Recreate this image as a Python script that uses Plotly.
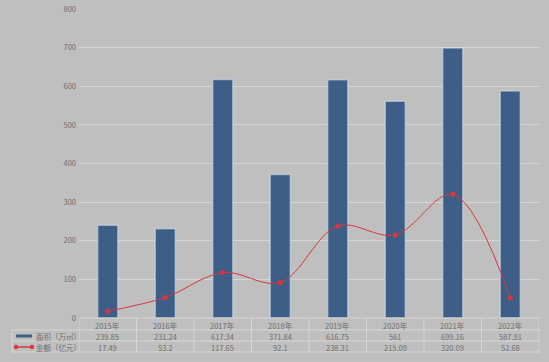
import plotly.graph_objects as go

years = ["2015年", "2016年", "2017年", "2018年", "2019年", "2020年", "2021年", "2022年"]
area = [239.85, 231.24, 617.34, 371.84, 616.75, 561, 699.16, 587.91]
amount = [17.49, 53.2, 117.65, 92.1, 238.31, 215.09, 320.09, 52.68]
area_text = ["239.85", "231.24", "617.34", "371.84", "616.75", "561", "699.16", "587.91"]
amount_text = ["17.49", "53.2", "117.65", "92.1", "238.31", "215.09", "320.09", "52.68"]
series_names = ["面积（万㎡）", "金额（亿元）"]
yticks = [0, 100, 200, 300, 400, 500, 600, 700, 800]

W, H = 549, 362
ML, MR, MT, MB = 79, 10, 9, 44
PW = W - ML - MR
PH = H - MT - MB

BAR = "#3d5f87"
RED = "#d9363e"
TXT = "#6e6e6e"
GRID = "#d6d6d6"
FONT = "Noto Sans CJK SC"

def px_x(p):
    return (p - ML) / PW

def px_y(p):
    return (H - MB - p) / PH

fig = go.Figure()
fig.add_trace(go.Bar(
    x=years, y=area, name=series_names[0], width=0.35,
    marker=dict(color=BAR, line=dict(color="rgba(215,225,235,0.55)", width=1.5)),
))
fig.add_trace(go.Scatter(
    x=years, y=amount, name=series_names[1], mode="lines+markers",
    line=dict(color=RED, width=1, shape="spline", smoothing=1.0),
    marker=dict(color=RED, size=5),
))

shapes = []
for yy in [330, 341, 352]:
    shapes.append(dict(type="line", xref="paper", yref="paper",
                       x0=px_x(12), x1=px_x(540), y0=px_y(yy), y1=px_y(yy),
                       line=dict(color=GRID, width=1)))
shapes.append(dict(type="line", xref="paper", yref="paper",
                   x0=px_x(80), x1=px_x(540), y0=px_y(318), y1=px_y(318),
                   line=dict(color=GRID, width=1)))
for i in range(len(years) + 1):
    shapes.append(dict(type="line", xref="x", yref="paper",
                       x0=i - 0.5, x1=i - 0.5, y0=px_y(318), y1=px_y(352),
                       line=dict(color=GRID, width=1)))
shapes.append(dict(type="line", xref="paper", yref="paper",
                   x0=px_x(12), x1=px_x(12), y0=px_y(330), y1=px_y(352),
                   line=dict(color=GRID, width=1)))
shapes.append(dict(type="rect", xref="paper", yref="paper",
                   x0=px_x(16), x1=px_x(32), y0=px_y(337.5), y1=px_y(334.5),
                   fillcolor=BAR, line=dict(width=0)))
shapes.append(dict(type="line", xref="paper", yref="paper",
                   x0=px_x(16), x1=px_x(32), y0=px_y(347), y1=px_y(347),
                   line=dict(color=RED, width=1.5)))
for cx in [16, 32]:
    shapes.append(dict(type="circle", xref="paper", yref="paper",
                       x0=px_x(cx - 2.2), x1=px_x(cx + 2.2), y0=px_y(347 + 2.2), y1=px_y(347 - 2.2),
                       fillcolor=RED, line=dict(width=0)))

annotations = []
for i, y in enumerate(years):
    annotations.append(dict(x=y, y=0, xref="x", yref="paper", yshift=-7, yanchor="middle",
                            text=years[i], showarrow=False,
                            font=dict(size=7.5, color=TXT, family=FONT)))
    annotations.append(dict(x=y, y=0, xref="x", yref="paper", yshift=-18, yanchor="middle",
                            text=area_text[i], showarrow=False,
                            font=dict(size=7.5, color=TXT, family=FONT)))
    annotations.append(dict(x=y, y=0, xref="x", yref="paper", yshift=-29, yanchor="middle",
                            text=amount_text[i], showarrow=False,
                            font=dict(size=7.5, color=TXT, family=FONT)))
annotations.append(dict(x=px_x(34), y=px_y(336), xref="paper", yref="paper",
                        xanchor="left", yanchor="middle", text=series_names[0], showarrow=False,
                        font=dict(size=7.5, color=TXT, family=FONT)))
annotations.append(dict(x=px_x(34), y=px_y(347), xref="paper", yref="paper",
                        xanchor="left", yanchor="middle", text=series_names[1], showarrow=False,
                        font=dict(size=7.5, color=TXT, family=FONT)))

fig.update_layout(
    width=W, height=H,
    margin=dict(l=ML, r=MR, t=MT, b=MB, autoexpand=False),
    paper_bgcolor="#bfbfbf", plot_bgcolor="#bfbfbf",
    showlegend=False,
    font=dict(family=FONT, color=TXT, size=7.5),
    shapes=shapes, annotations=annotations,
    xaxis=dict(type="category", range=[-0.5, 7.5], showgrid=False, showline=False,
               ticks="", showticklabels=False, fixedrange=True, automargin=False),
    yaxis=dict(range=[0, 800], tickvals=yticks, showgrid=True, gridcolor=GRID,
               gridwidth=1, zeroline=False, showline=False, ticks="", automargin=False,
               tickfont=dict(size=7.5, color=TXT), ticklabelstandoff=2),
    bargap=0.65,
)

fig.write_html("out.html", config={"displayModeBar": False},
               post_script="document.body.style.margin='0';document.body.style.overflow='hidden';")
